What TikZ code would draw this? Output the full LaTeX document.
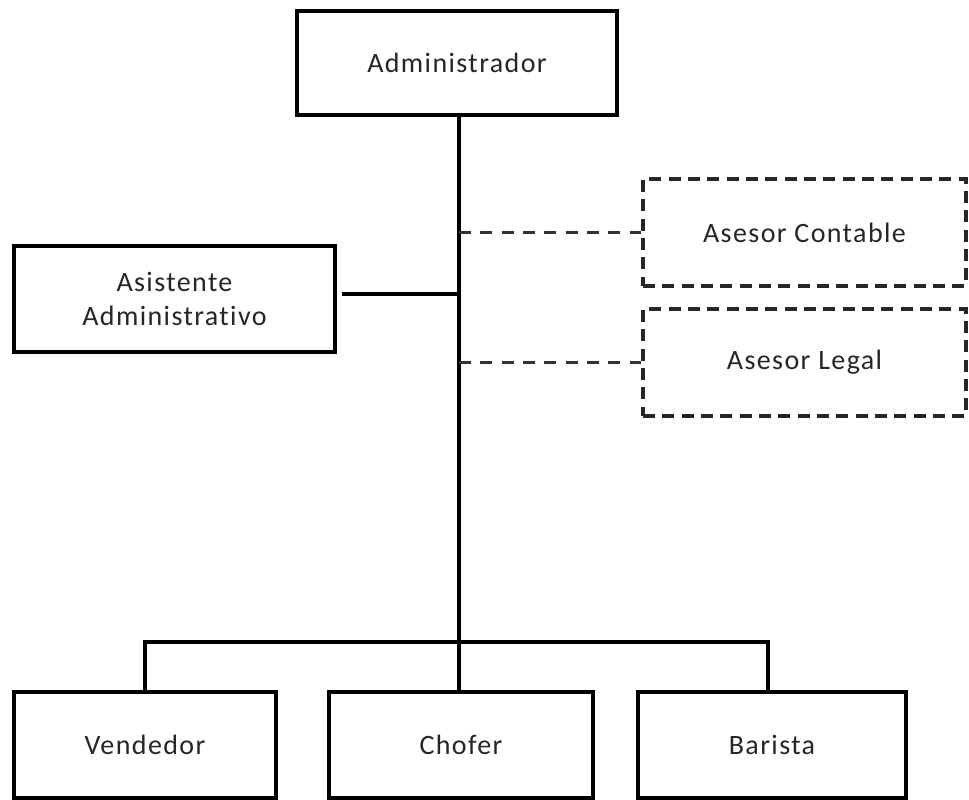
\documentclass[tikz,border=0pt]{standalone}
\usepackage{fontspec}
\setmainfont{Carlito}[LetterSpace=5,Ligatures=NoCommon]
\begin{document}
\begin{tikzpicture}[x=0.75pt,y=-0.75pt,
  box/.style={draw=black,line width=2.3pt,fill=white,inner sep=0pt,align=center,
    font=\fontsize{21}{26}\selectfont,text=black!85},
  dbox/.style={box,draw=black!85,line width=2.3pt,dash pattern=on 9pt off 5.5pt},
  conn/.style={draw=black,line width=2.3pt},
  dconn/.style={draw=black!80,line width=2.3pt,dash pattern=on 9pt off 7pt}]
\useasboundingbox (0,0) rectangle (969,799);
\fill[white] (0,0) rectangle (969,799);
\node[box,minimum width=240pt,minimum height=78pt] (admin) at (457,63) {Administrador};
\node[box,minimum width=240.75pt,minimum height=79.5pt] (asis) at (174.5,299) {Asistente\\Administrativo};
\node[dbox,minimum width=242.25pt,minimum height=80.25pt] (cont) at (804.5,232.5) {Asesor Contable};
\node[dbox,minimum width=242.25pt,minimum height=80.25pt] (legal) at (804.5,362.5) {Asesor Legal};
\node[box,minimum width=196.5pt,minimum height=79.5pt] (vend) at (145,745) {Vendedor};
\node[box,minimum width=198pt,minimum height=79.5pt] (chof) at (461,745) {Chofer};
\node[box,minimum width=201pt,minimum height=79.5pt] (bari) at (772,745) {Barista};
\coordinate (ttop) at (459,115);
\coordinate (tbot) at (459,692);
\coordinate (barL) at (145,642);
\coordinate (barR) at (768,642);
\coordinate (dropL) at (145,692);
\coordinate (dropR) at (768,692);
\coordinate (asisEnd) at (342,294);
\draw[conn] (ttop) -- (tbot);
\draw[conn] (asisEnd) -- (asisEnd -| ttop);
\draw[conn] (dropL) -- (barL) -- (barR) -- (dropR);
\draw[dconn] (cont.west -| ttop) -- (cont.west);
\draw[dconn] (legal.west -| ttop) -- (legal.west);
\end{tikzpicture}
\end{document}
